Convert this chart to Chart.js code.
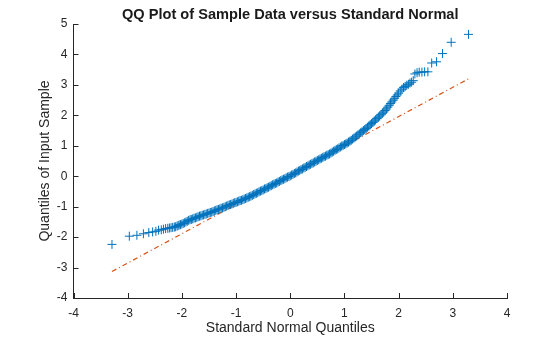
<!DOCTYPE html>
<html>
<head>
<meta charset="utf-8">
<script src="https://cdn.jsdelivr.net/npm/chart.js@4/dist/chart.umd.min.js"></script>
<style>
  body { margin: 0; background: #fff; }
</style>
</head>
<body>
<canvas id="qq" width="560" height="337"></canvas>
<script>
// standard normal quantiles (x) and sorted sample values (y)
const quantiles = [
  -3.29, -2.97, -2.83, -2.71, -2.61, -2.54, -2.48, -2.43, -2.38, -2.34,
  -2.30, -2.26, -2.23, -2.20, -2.17, -2.14, -2.12, -2.09, -2.07, -2.05,
  -2.025, -2.000, -1.975, -1.950, -1.925, -1.900, -1.875, -1.850, -1.825, -1.800,
  -1.775, -1.750, -1.725, -1.700, -1.675, -1.650, -1.625, -1.600, -1.575, -1.550,
  -1.525, -1.500, -1.475, -1.450, -1.425, -1.400, -1.375, -1.350, -1.325, -1.300,
  -1.275, -1.250, -1.225, -1.200, -1.175, -1.150, -1.125, -1.100, -1.075, -1.050,
  -1.025, -1.000, -0.975, -0.950, -0.925, -0.900, -0.875, -0.850, -0.825, -0.800,
  -0.775, -0.750, -0.725, -0.700, -0.675, -0.650, -0.625, -0.600, -0.575, -0.550,
  -0.525, -0.500, -0.475, -0.450, -0.425, -0.400, -0.375, -0.350, -0.325, -0.300,
  -0.275, -0.250, -0.225, -0.200, -0.175, -0.150, -0.125, -0.100, -0.075, -0.050,
  -0.025, 0.000, 0.025, 0.050, 0.075, 0.100, 0.125, 0.150, 0.175, 0.200,
  0.225, 0.250, 0.275, 0.300, 0.325, 0.350, 0.375, 0.400, 0.425, 0.450,
  0.475, 0.500, 0.525, 0.550, 0.575, 0.600, 0.625, 0.650, 0.675, 0.700,
  0.725, 0.750, 0.775, 0.800, 0.825, 0.850, 0.875, 0.900, 0.925, 0.950,
  0.975, 1.000, 1.025, 1.050, 1.075, 1.100, 1.125, 1.150, 1.175, 1.200,
  1.225, 1.250, 1.275, 1.300, 1.325, 1.350, 1.375, 1.400, 1.425, 1.450,
  1.475, 1.500, 1.525, 1.550, 1.575, 1.600, 1.625, 1.650, 1.675, 1.700,
  1.725, 1.750, 1.775, 1.800, 1.825, 1.850, 1.875, 1.900, 1.925, 1.950,
  1.975, 2.000, 2.03, 2.06, 2.09, 2.12, 2.15, 2.18, 2.21, 2.24,
  2.27, 2.30, 2.34, 2.38, 2.43, 2.48, 2.54, 2.61, 2.70, 2.81,
  2.97, 3.29
];
const sample = [
  -2.24, -1.97, -1.94, -1.89, -1.85, -1.83, -1.81, -1.77, -1.76, -1.74,
  -1.72, -1.71, -1.70, -1.69, -1.68, -1.67, -1.66, -1.64, -1.62, -1.60,
  -1.59, -1.57, -1.55, -1.53, -1.50, -1.48, -1.45, -1.43, -1.42, -1.40,
  -1.38, -1.37, -1.35, -1.33, -1.31, -1.30, -1.28, -1.27, -1.25, -1.24,
  -1.22, -1.21, -1.19, -1.18, -1.16, -1.14, -1.12, -1.10, -1.09, -1.07,
  -1.05, -1.04, -1.02, -1.00, -0.98, -0.96, -0.94, -0.93, -0.91, -0.89,
  -0.87, -0.86, -0.84, -0.82, -0.80, -0.79, -0.77, -0.75, -0.73, -0.71,
  -0.69, -0.67, -0.65, -0.63, -0.60, -0.58, -0.56, -0.54, -0.51, -0.49,
  -0.47, -0.45, -0.42, -0.40, -0.38, -0.36, -0.33, -0.31, -0.28, -0.26,
  -0.24, -0.22, -0.19, -0.17, -0.14, -0.12, -0.10, -0.08, -0.05, -0.03,
  -0.01, 0.01, 0.04, 0.06, 0.09, 0.11, 0.14, 0.17, 0.19, 0.22,
  0.24, 0.27, 0.29, 0.32, 0.34, 0.37, 0.39, 0.42, 0.44, 0.47,
  0.49, 0.52, 0.54, 0.57, 0.59, 0.62, 0.64, 0.66, 0.69, 0.71,
  0.73, 0.76, 0.79, 0.82, 0.85, 0.88, 0.90, 0.93, 0.96, 0.99,
  1.01, 1.04, 1.06, 1.09, 1.12, 1.15, 1.18, 1.22, 1.25, 1.29,
  1.32, 1.36, 1.39, 1.43, 1.46, 1.50, 1.53, 1.57, 1.61, 1.65,
  1.69, 1.73, 1.77, 1.81, 1.85, 1.90, 1.94, 1.98, 2.02, 2.07,
  2.11, 2.16, 2.21, 2.27, 2.33, 2.39, 2.44, 2.50, 2.56, 2.62,
  2.67, 2.73, 2.80, 2.86, 2.91, 2.95, 2.99, 3.02, 3.06, 3.09,
  3.14, 3.36, 3.40, 3.42, 3.42, 3.43, 3.43, 3.72, 3.76, 4.03,
  4.40, 4.66
];
// reference line end points
const refX = [-3.29, 3.29];
const refY = [-3.13, 3.20];

const xTicks = [-4, -3, -2, -1, 0, 1, 2, 3, 4];
const yTicks = [-4, -3, -2, -1, 0, 1, 2, 3, 4, 5];

const axisColor = "#262626";
const fontFamily = "'Liberation Sans', Arial, Helvetica, sans-serif";

// matlab style ticks pointing into the plot
const innerTicks = {
  id: "innerTicks",
  afterDraw(chart) {
    const { ctx, chartArea, scales } = chart;
    ctx.save();
    ctx.strokeStyle = axisColor;
    ctx.lineWidth = 1;
    ctx.beginPath();
    xTicks.forEach((v) => {
      const px = Math.round(scales.x.getPixelForValue(v)) + 0.5;
      ctx.moveTo(px, chartArea.bottom);
      ctx.lineTo(px, chartArea.bottom - 5);
    });
    yTicks.forEach((v) => {
      const py = Math.round(scales.y.getPixelForValue(v)) + 0.5;
      ctx.moveTo(chartArea.left, py);
      ctx.lineTo(chartArea.left + 5, py);
    });
    ctx.stroke();
    ctx.restore();
  },
};

const ctx = document.getElementById("qq").getContext("2d");

const qq = new Chart(ctx, {
  type: "scatter",
  data: {
    datasets: [
      {
        data: quantiles.map((q, i) => ({ x: q, y: sample[i] })),
        pointStyle: "cross",
        pointRadius: 4.5,
        pointBorderWidth: 1,
        borderColor: "rgb(0, 114, 189)",
        backgroundColor: "rgb(0, 114, 189)",
        showLine: false,
      },
      {
        data: refX.map((q, i) => ({ x: q, y: refY[i] })),
        showLine: true,
        pointRadius: 0,
        borderColor: "rgb(217, 83, 25)",
        borderWidth: 1.2,
        borderDash: [5, 3, 1, 3],
      },
    ],
  },
  options: {
    responsive: false,
    animation: false,
    layout: { padding: { top: 0, right: 53, bottom: 0, left: 0 } },
    plugins: {
      legend: { display: false },
      tooltip: { enabled: false },
      title: {
        display: true,
        fullSize: false,
        text: "QQ Plot of Sample Data versus Standard Normal",
        color: "#1a1a1a",
        font: { family: fontFamily, size: 14.6, weight: "bold" },
        padding: { top: 6, bottom: 0.5 },
      },
    },
    scales: {
      x: {
        type: "linear",
        min: -4,
        max: 4,
        afterFit: (s) => { s.height = 39; },
        afterBuildTicks: (s) => { s.ticks = xTicks.map((v) => ({ value: v })); },
        grid: { drawOnChartArea: false, drawTicks: false },
        border: { display: true, color: axisColor, width: 1 },
        ticks: {
          padding: 8,
          color: axisColor,
          font: { family: fontFamily, size: 12 },
        },
        title: {
          display: true,
          text: "Standard Normal Quantiles",
          color: axisColor,
          font: { family: fontFamily, size: 14 },
          padding: { top: 0, bottom: 0 },
        },
      },
      y: {
        type: "linear",
        min: -4,
        max: 5,
        afterFit: (s) => { s.width = 73.5; },
        afterBuildTicks: (s) => { s.ticks = yTicks.map((v) => ({ value: v })); },
        grid: { drawOnChartArea: false, drawTicks: false },
        border: { display: true, color: axisColor, width: 1 },
        ticks: {
          padding: 6,
          color: axisColor,
          font: { family: fontFamily, size: 12 },
        },
        title: {
          display: true,
          text: "Quantiles of Input Sample",
          color: axisColor,
          font: { family: fontFamily, size: 14 },
          padding: { top: 37, bottom: 0 },
        },
      },
    },
  },
  plugins: [innerTicks],
});
</script>
</body>
</html>
